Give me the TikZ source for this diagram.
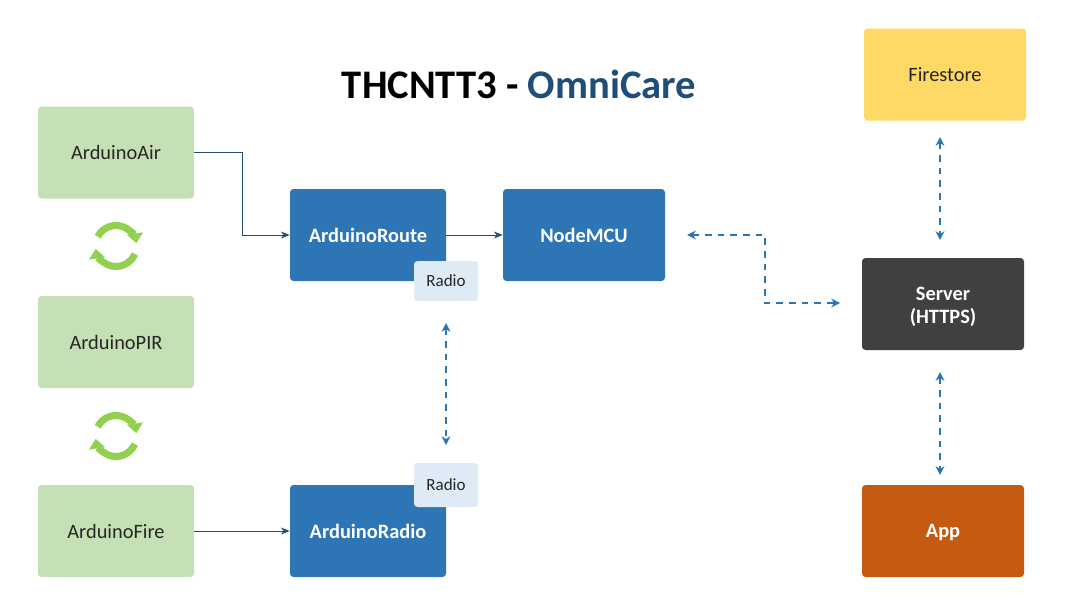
\documentclass[tikz,border=0pt]{standalone}
\usepackage{fontspec}
\setmainfont{Carlito}
\usetikzlibrary{arrows.meta}
\definecolor{boxgreen}{HTML}{C5E0B4}
\definecolor{boxblue}{HTML}{2E75B6}
\definecolor{boxdark}{HTML}{404040}
\definecolor{boxorange}{HTML}{C55A11}
\definecolor{boxyellow}{HTML}{FFD966}
\definecolor{boxradio}{HTML}{DEEBF7}
\definecolor{titleblue}{HTML}{1F4E79}
\definecolor{cyclegreen}{HTML}{92D050}
\tikzset{
  box/.style={rounded corners=2pt, minimum width=3.12cm, minimum height=1.84cm, inner sep=0pt, font=\fontsize{11.6}{13.6}\selectfont},
  sensor/.style={box, fill=boxgreen, text=black!85},
  unit/.style={box, fill=boxblue, text=white, font=\fontsize{11.6}{13.6}\selectfont\bfseries},
  wide/.style={minimum width=3.24cm},
  radio/.style={rounded corners=2pt, fill=boxradio, text=black!85, minimum width=1.28cm, inner sep=0pt, font=\fontsize{9.7}{11}\selectfont},
  wire/.style={-{Stealth[length=5pt,width=4pt]}, titleblue, line width=0.5pt},
  link/.style={{Stealth[length=5pt,width=5pt]}-{Stealth[length=5pt,width=5pt]}, boxblue, line width=0.9pt, dash pattern=on 3.8pt off 3.4pt},
  cycle/.style={-{Triangle[length=5.5pt,width=9pt]}, cyclegreen, line width=4pt},
}
\begin{document}
\begin{tikzpicture}
         \useasboundingbox (0, 0) rectangle (21.6, 12.14);
         \node (Title) at (10.38, 10.46) {\fontsize{23.1}{27}\selectfont\bfseries THCNTT3 - \textcolor{titleblue}{OmniCare}};
         \node [sensor] (Air) at (2.32, 9.09) {ArduinoAir};
         \node [sensor] (PIR) at (2.32, 5.30) {ArduinoPIR};
         \node [sensor] (Fire) at (2.32, 1.52) {ArduinoFire};
         \node [unit] (Route) at (7.36, 7.44) {ArduinoRoute};
         \node [unit] (Radio) at (7.36, 1.52) {ArduinoRadio};
         \node [unit,wide] (MCU) at (11.68, 7.44) {NodeMCU};
         \node [box,wide,fill=boxyellow,text=black!85] (Store) at (18.90, 10.65) {Firestore};
         \node [unit,wide,fill=boxdark,align=center] (Server) at (18.86, 6.06) {\rule{0pt}{10.8pt}Server\\(HTTPS)};
         \node [unit,wide,fill=boxorange,text depth=0pt] (App) at (18.86, 1.52) {App};
         \node [radio,minimum height=0.80cm] (RadioT) at (8.92, 6.52) {Radio};
         \node [radio,minimum height=0.88cm] (RadioB) at (8.92, 2.44) {Radio};
         % free ends of the dashed links
         \coordinate (StoreEnd) at (18.80, 9.40);
         \coordinate (ServerTop) at (18.80, 7.34);
         \coordinate (ServerBot) at (18.80, 4.70);
         \coordinate (AppEnd) at (18.80, 2.64);
         \coordinate (MCUEnd) at (13.74, 7.44);
         \coordinate (ServerEnd) at (16.80, 6.08);
         \coordinate (RadioTEnd) at (8.92, 5.68);
         \coordinate (RadioBEnd) at (8.92, 3.24);
         \draw [wire] (Air.east) -- (4.84, 9.09) |- (Route.west);
         \draw [wire] (Fire.east) -- (Radio.west);
         \draw [wire] (Route.east) -- (MCU.west);
         \draw [link] (MCUEnd) -| (15.30, 6.08) -- (ServerEnd);
         \draw [link] (RadioTEnd) -- (RadioBEnd);
         \draw [link] (StoreEnd) -- (ServerTop);
         \draw [link] (ServerBot) -- (AppEnd);
         \foreach \cy in {7.22, 3.42} {
           \draw [cycle] (2.32, \cy) ++(153:0.41) arc (153:8:0.41);
           \draw [cycle] (2.32, \cy) ++(-23:0.41) arc (-23:-172:0.41);
         }
\end{tikzpicture}
\end{document}
